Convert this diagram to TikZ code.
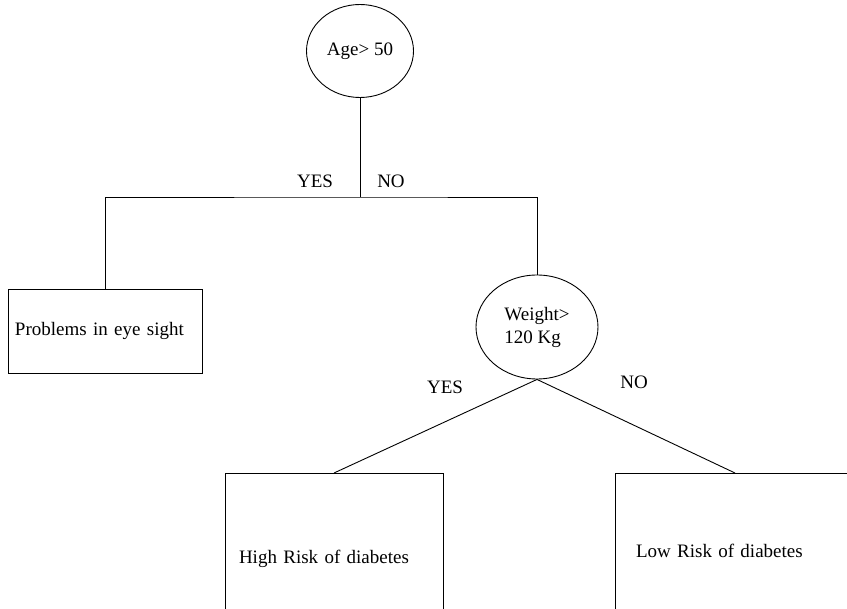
\documentclass[tikz,border=0pt]{standalone}
\usepackage{fontspec}
\setmainfont{Liberation Serif}
\usetikzlibrary{shapes.geometric}

\tikzset{
	test/.style={shape=ellipse, draw, line width=0.9pt, inner sep=0pt, align=left},
	leaf/.style={shape=rectangle, draw, line width=0.9pt, align=left},
	branch/.style={inner sep=0pt},
	every node/.append style={font=\fontsize{19}{23}\selectfont},
}

\begin{document}
\begin{tikzpicture}[x=1pt, y=-1pt, line width=0.9pt]
	\useasboundingbox (0, 0) rectangle (847, 609);
	\clip (0, 0) rectangle (847, 609);
	% Tests and outcomes:
	\node[test, minimum width=107pt, minimum height=93pt] (age) at (360, 51){Age> 50};
	\node[test, minimum width=122pt, minimum height=104pt] (weight) at (537, 327){Weight>\\120 Kg};
	\node[leaf, minimum width=194pt, minimum height=84pt, text width=180pt, inner sep=7pt] (eye) at (105, 331){Problems in eye sight};
	\node[leaf, minimum width=218pt, minimum height=170pt, text width=190pt, inner sep=14pt, anchor=north] (high) at (334, 473){High Risk of diabetes};
	\node[leaf, minimum width=240pt, minimum height=154pt, text width=198pt, inner sep=21pt, anchor=north] (low) at (735, 473){Low Risk of diabetes};
	% Wires:
	\coordinate (split) at (360, 197);
	\draw (age) -- (split);
	\draw (eye.north) |- (split) -| (weight.north);
	\draw (weight.south) -- (high.north);
	\draw (weight.south) -- (low.north);
	% Branch labels:
	\node[branch] (yes1) at (315, 181){YES};
	\node[branch] (no1) at (391, 181){NO};
	\node[branch] (yes2) at (445, 387){YES};
	\node[branch] (no2) at (634, 382){NO};
\end{tikzpicture}
\end{document}
